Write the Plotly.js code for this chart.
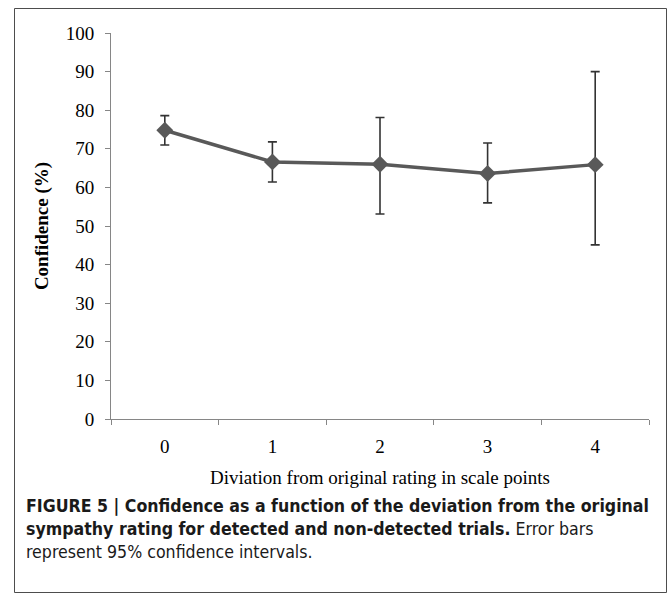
<!DOCTYPE html>
<html>
<head>
<meta charset="utf-8">
<script src="https://cdn.plot.ly/plotly-3.0.1.min.js"></script>
<style>
html,body{margin:0;padding:0;background:#fff;}
#chart{width:669px;height:600px;}
</style>
</head>
<body>
<div id="chart"></div>
<script>
// Data
const categories = ['0', '1', '2', '3', '4'];
const confidence = [74.8, 66.6, 66.0, 63.6, 65.9];
const ciUpper = [78.6, 71.8, 78.1, 71.5, 90.0];
const ciLower = [71.0, 61.4, 53.1, 56.0, 45.1];
const yTicks = [0, 10, 20, 30, 40, 50, 60, 70, 80, 90, 100];

const xTitle = 'Diviation from original rating in scale points';
const yTitle = 'Confidence (%)';
const captionLines = [
  '<b>FIGURE 5 | Confidence as a function of the deviation from the original</b>',
  '<b>sympathy rating for detected and non-detected trials.</b> Error bars',
  'represent 95% confidence intervals.'
];

const errPlus = confidence.map((v, i) => +(ciUpper[i] - v).toFixed(2));
const errMinus = confidence.map((v, i) => +(v - ciLower[i]).toFixed(2));

// plot area in pixels
const W = 669, H = 600;
const L = 111, R = 649, T = 33, B = 419;
const px = x => (x - L) / (R - L);
const py = y => (B - y) / (B - T);

const serif = 'Liberation Serif, Times New Roman, serif';
const narrow = 'Liberation Sans Narrow, DejaVu Sans Condensed, Arial Narrow, sans-serif';

const trace = {
  type: 'scatter',
  mode: 'lines+markers',
  x: categories,
  y: confidence,
  line: {color: '#595959', width: 3.5},
  marker: {symbol: 'diamond', size: 13, color: '#595959'},
  error_y: {
    type: 'data',
    symmetric: false,
    array: errPlus,
    arrayminus: errMinus,
    color: '#333333',
    thickness: 1.6,
    width: 4.5
  },
  hoverinfo: 'skip'
};

const caption = captionLines.map((t, i) => ({
  text: t,
  xref: 'paper', yref: 'paper',
  x: px(24), y: py(506 + i * 23),
  xanchor: 'left', yanchor: 'middle',
  showarrow: false,
  align: 'left',
  font: {family: narrow, size: 17.6, color: '#1a1a1a'}
}));

const layout = {
  width: W, height: H,
  margin: {l: L, r: W - R, t: T, b: H - B},
  paper_bgcolor: '#ffffff',
  plot_bgcolor: '#ffffff',
  showlegend: false,
  font: {family: serif, size: 19, color: '#000'},
  xaxis: {
    type: 'category',
    categoryorder: 'array',
    categoryarray: categories,
    range: [-0.5, 4.5],
    tickson: 'boundaries',
    ticks: 'outside',
    ticklen: 5,
    tickcolor: '#868686',
    ticklabelstandoff: 10,
    showline: true,
    linecolor: '#868686',
    linewidth: 1,
    showgrid: false,
    zeroline: false,
    tickfont: {family: serif, size: 19, color: '#000'},
    title: {text: xTitle, font: {family: serif, size: 19, color: '#000'}, standoff: 14},
    fixedrange: true
  },
  yaxis: {
    range: [0, 100],
    tickvals: yTicks,
    ticktext: yTicks.map(String),
    ticks: 'outside',
    ticklen: 5,
    tickcolor: '#868686',
    ticklabelstandoff: 7,
    showline: true,
    linecolor: '#868686',
    linewidth: 1,
    showgrid: false,
    zeroline: false,
    tickfont: {family: serif, size: 19, color: '#000'},
    title: {text: '<b>' + yTitle + '</b>', font: {family: serif, size: 19, color: '#000'}, standoff: 12},
    fixedrange: true
  },
  shapes: [{
    type: 'rect', xref: 'paper', yref: 'paper',
    x0: px(14.5), x1: px(666.5), y0: py(592.5), y1: py(8.5),
    line: {color: '#4d4d4d', width: 1},
    fillcolor: 'rgba(0,0,0,0)',
    layer: 'below'
  }],
  annotations: caption
};

Plotly.newPlot('chart', [trace], layout, {displayModeBar: false, staticPlot: true});
</script>
</body>
</html>
